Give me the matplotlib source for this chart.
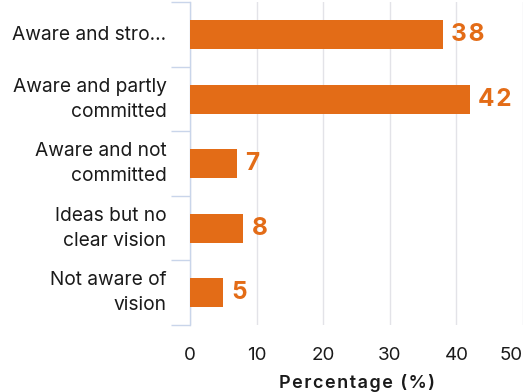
import matplotlib
matplotlib.use("Agg")
import matplotlib.pyplot as plt
from matplotlib.ticker import FixedLocator

plt.rcParams['font.family'] = ['Inter', 'DejaVu Sans']

categories = ["Aware and stro...", "Aware and partly\ncommitted", "Aware and not\ncommitted",
              "Ideas but no\nclear vision", "Not aware of\nvision"]
values = [38, 42, 7, 8, 5]
xticks = [0, 10, 20, 30, 40, 50]
xlabel = "Percentage (%)"

bar_color = "#E36C17"
axis_color = "#C9D5EA"
grid_color = "#E3E3E8"
text_color = "#1a1a1a"


def spaced(s, sep="\u200a"):
    return sep.join(s)


fig = plt.figure(figsize=(5.28, 3.92), dpi=100)
ax = fig.add_axes([0.36, 0.171, 0.6305, 0.823])

y = list(range(len(categories)))
ax.barh(y, values, height=0.45, color=bar_color, zorder=3)
ax.set_ylim(len(categories) - 0.5, -0.5)
ax.set_xlim(0, 50)

for yi, v in zip(y, values):
    ax.annotate(spaced(f"{v}"), xy=(v, yi), xytext=(6, 0), textcoords="offset points",
                va="center", ha="left", fontsize=17.5, fontweight="bold",
                color=bar_color)

ax.set_yticks(y)
ax.set_yticklabels(categories, fontsize=13.8, color=text_color, linespacing=1.5)
for lbl in ax.get_yticklabels():
    lbl.set_verticalalignment("center")
ax.tick_params(axis="y", which="major", length=0, pad=17)
ax.yaxis.set_minor_locator(FixedLocator([i - 0.5 for i in range(len(categories) + 1)]))
ax.tick_params(axis="y", which="minor", length=14, color=axis_color, width=1)

ax.set_xticks(xticks)
ax.set_xticklabels([str(t) for t in xticks], fontsize=13.5, color=text_color)
ax.get_xticklabels()[-1].set_horizontalalignment("right")
ax.tick_params(axis="x", length=0, pad=16)
ax.xaxis.grid(True, color=grid_color, linewidth=1, zorder=0)

for side in ["top", "right", "bottom"]:
    ax.spines[side].set_visible(False)
ax.spines["left"].set_color(axis_color)
ax.spines["left"].set_linewidth(1)

ax.set_xlabel(spaced(xlabel), fontsize=13, fontweight="semibold", labelpad=7,
              color=text_color)

fig.savefig("out.png", dpi=100)
